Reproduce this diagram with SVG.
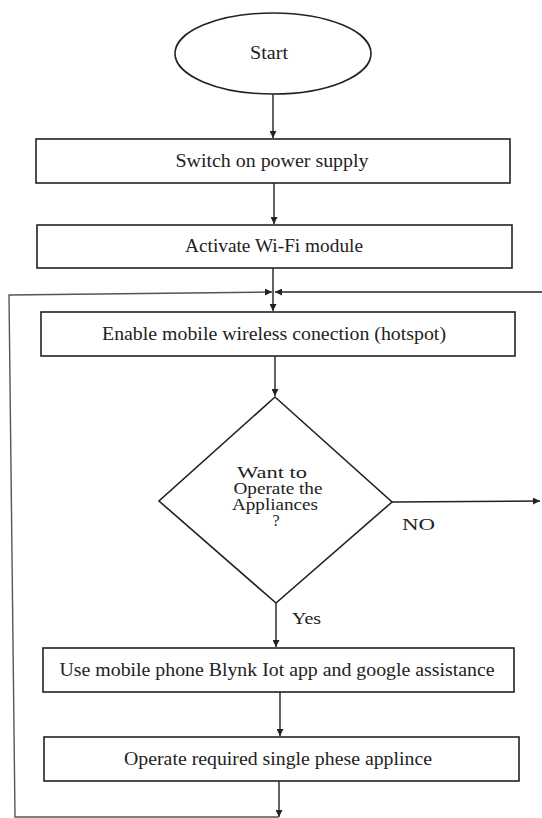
<svg xmlns="http://www.w3.org/2000/svg" width="542" height="818" viewBox="0 0 542 818">
<defs>
<style>
.box{fill:#fff;stroke:#222;stroke-width:1.6}
.ln{fill:none;stroke:#222;stroke-width:1.4}
.lt{fill:none;stroke:#555;stroke-width:1.4}
.t{font-family:"Liberation Serif","Times New Roman",serif;font-size:18px;fill:#222;text-anchor:middle}
.d{font-family:"Liberation Serif","Times New Roman",serif;font-size:16px;fill:#222;text-anchor:middle}
.l{font-family:"Liberation Serif","Times New Roman",serif;font-size:16px;fill:#222}
</style>
<marker id="ah" viewBox="0 0 10 10" refX="10" refY="5" markerWidth="7" markerHeight="7" markerUnits="userSpaceOnUse" orient="auto">
<path d="M0,0 L10,5 L0,10 z" fill="#222"/>
</marker>
</defs>
<rect width="542" height="818" fill="#fff"/>
<g id="connectors">
<line class="ln" x1="273" y1="94" x2="273" y2="138" marker-end="url(#ah)"/>
<line class="ln" x1="274" y1="183" x2="274" y2="224" marker-end="url(#ah)"/>
<line class="ln" x1="273" y1="268" x2="273" y2="311" marker-end="url(#ah)"/>
<line class="ln" x1="275" y1="356" x2="275" y2="396" marker-end="url(#ah)"/>
<line class="ln" x1="276" y1="603" x2="276" y2="647" marker-end="url(#ah)"/>
<line class="ln" x1="280" y1="692" x2="280" y2="736" marker-end="url(#ah)"/>
<line class="ln" x1="279" y1="781" x2="279" y2="817" marker-end="url(#ah)"/>
<line class="ln" x1="392" y1="502" x2="540" y2="501" marker-end="url(#ah)"/>
<path class="lt" d="M279 817 L15 817 L9 295 L272 292" marker-end="url(#ah)"/>
<line class="ln" x1="542" y1="292" x2="275" y2="292" marker-end="url(#ah)"/>
</g>
<g id="start">
<ellipse class="box" cx="273" cy="53.5" rx="98" ry="40.5"/>
<text class="t" x="269" y="59" textLength="38" lengthAdjust="spacingAndGlyphs">Start</text>
</g>
<g id="power">
<rect class="box" x="36" y="139" width="474" height="44"/>
<text class="t" x="272" y="167" textLength="193" lengthAdjust="spacingAndGlyphs">Switch on power supply</text>
</g>
<g id="wifi">
<rect class="box" x="37" y="225" width="475" height="43"/>
<text class="t" x="274" y="252" textLength="178" lengthAdjust="spacingAndGlyphs">Activate Wi-Fi module</text>
</g>
<g id="hotspot">
<rect class="box" x="41" y="312" width="474" height="44"/>
<text class="t" x="274" y="340" textLength="344" lengthAdjust="spacingAndGlyphs">Enable mobile wireless conection (hotspot)</text>
</g>
<g id="decision">
<polygon class="box" points="275,397 392,502 276,603 159,501"/>
<text class="d" x="272" y="478" textLength="70" lengthAdjust="spacingAndGlyphs">Want to</text>
<text class="d" x="278" y="494" textLength="89" lengthAdjust="spacingAndGlyphs">Operate the</text>
<text class="d" x="275" y="510" textLength="86" lengthAdjust="spacingAndGlyphs">Appliances</text>
<text class="d" x="276" y="526">?</text>
<text class="l" x="402" y="530" textLength="33" lengthAdjust="spacingAndGlyphs">NO</text>
<text class="l" x="292" y="624" textLength="29" lengthAdjust="spacingAndGlyphs">Yes</text>
</g>
<g id="blynk">
<rect class="box" x="43" y="648" width="471" height="44"/>
<text class="t" x="277" y="676" textLength="435" lengthAdjust="spacingAndGlyphs">Use mobile phone Blynk Iot app and google assistance</text>
</g>
<g id="operate">
<rect class="box" x="44" y="737" width="475" height="44"/>
<text class="t" x="278" y="765" textLength="308" lengthAdjust="spacingAndGlyphs">Operate required single phese applince</text>
</g>
</svg>
